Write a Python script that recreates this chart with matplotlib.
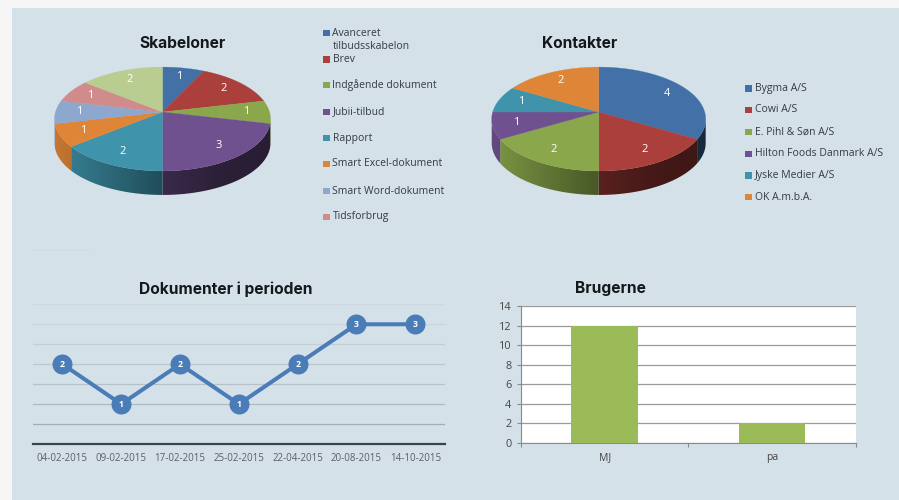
import numpy as np
import matplotlib
matplotlib.use('Agg')
import matplotlib.pyplot as plt
from matplotlib.patches import Rectangle, Polygon

W, H = 899, 500

# data
skabelon_labels = ['Avanceret\ntilbudsskabelon', 'Brev', 'Indgående dokument', 'Jubii-tilbud', 'Rapport',
                   'Smart Excel-dokument', 'Smart Word-dokument', 'Tidsforbrug']
skabelon_values = [1, 2, 1, 3, 2, 1, 1, 1, 2]
skabelon_colors = ['#4470a8', '#ab3f3b', '#8aa84b', '#70518f', '#3f94ab', '#de8537', '#8ea7cf', '#d08c8a', '#b9cd90']

kontakt_labels = ['Bygma A/S', 'Cowi A/S', 'E. Pihl & Søn A/S', 'Hilton Foods Danmark A/S', 'Jyske Medier A/S', 'OK A.m.b.A.']
kontakt_values = [4, 2, 2, 1, 1, 2]
kontakt_colors = ['#4470a8', '#ab3f3b', '#8aa84b', '#70518f', '#3f94ab', '#de8537']

dato_labels = ['04-02-2015', '09-02-2015', '17-02-2015', '25-02-2015', '22-04-2015', '20-08-2015', '14-10-2015']
dato_values = [2, 1, 2, 1, 2, 3, 3]

bruger_labels = ['MJ', 'pa']
bruger_values = [12, 2]

TITLE_FONT = 'Inter'
BODY_FONT = 'Open Sans'
PERSP = 0.135  # tilt of the pie, front gets bigger


def pie_xy(deg, r, cx, cy, rx, ry):
    # 0 deg is straight up, going clockwise
    t = np.radians(deg)
    w = 1 + PERSP * r * np.cos(t)
    return cx + rx * r * np.sin(t) / w, cy - ry * r * np.cos(t) / w


def pie3d(ax, values, colors, cx, cy, rx=107, ry=51, depth=24):
    edges = np.cumsum([0] + list(values)) / sum(values) * 360
    side0 = np.degrees(np.arccos(-PERSP))
    side1 = 360 - side0
    u = np.linspace(-1.02, 1.02, 200)
    shade = np.interp(u, [-1.02, 0, 0.5, 1.02], [0.9, 0.52, 0.4, 0.36])
    # wall first
    for i in range(len(values)):
        a0, a1 = max(edges[i], side0), min(edges[i + 1], side1)
        if a1 <= a0:
            continue
        t = np.linspace(a0, a1, 60)
        x, y = pie_xy(t, 1, cx, cy, rx, ry)
        wall = Polygon(np.c_[np.r_[x, x[::-1]], np.r_[y, y[::-1] + depth]], closed=True,
                       transform=ax.transData, fc='none', ec='none')
        ax.add_patch(wall)
        base = np.array(matplotlib.colors.to_rgb(colors[i]))
        grad = (shade[:, None] * base)[None, :, :]
        im = ax.imshow(grad, extent=(cx - 1.02 * rx, cx + 1.02 * rx, cy + ry + depth + 20, cy - ry),
                       aspect='auto', zorder=2, interpolation='bilinear')
        im.set_clip_path(wall)
    # top face
    for i in range(len(values)):
        t = np.linspace(edges[i], edges[i + 1], 60)
        x, y = pie_xy(t, 1, cx, cy, rx, ry)
        ax.fill(np.r_[cx, x], np.r_[cy, y], color=colors[i], lw=0.2, zorder=3)
        mid = (edges[i] + edges[i + 1]) / 2
        lx, ly = pie_xy(mid, 0.78, cx, cy, rx, ry)
        ax.text(lx, ly, str(values[i]), color='white', fontsize=8, family=BODY_FONT,
                ha='center', va='center', zorder=4)


def legend_col(ax, labels, colors, ys, x_box, x_text):
    for lab, col, y in zip(labels, colors, ys):
        box_y = y - 7.25 * lab.count('\n')
        ax.add_patch(Rectangle((x_box, box_y - 3.2), 6.5, 6.5, color=col, lw=0, zorder=3))
        ax.text(x_text, y, lab, fontsize=7.5, family=BODY_FONT, color='#333b44', va='center',
                ha='left', linespacing=1.24, zorder=3)


def axes_px(left, top, right, bottom):
    return fig.add_axes([left / W, 1 - bottom / H, (right - left) / W, (bottom - top) / H])


fig = plt.figure(figsize=(W / 100, H / 100), dpi=100, facecolor='#f6f6f6')

bg = fig.add_axes([0, 0, 1, 1])
bg.axis('off')
bg.add_patch(Rectangle((12, 8), W - 12, H - 8, color='#d5e1e9', lw=0))
bg.plot([32, 88], [250, 250], color='#cfdae2', lw=0.7)

for txt, x, y in [('Skabeloner', 183, 43), ('Kontakter', 580, 43),
                  ('Dokumenter i perioden', 226, 289), ('Brugerne', 610, 289)]:
    bg.text(x, y, txt, fontsize=11.2, fontweight='bold', family=TITLE_FONT, color='#14181c',
            ha='center', va='center')

pie3d(bg, skabelon_values, skabelon_colors, 162.5, 112)
pie3d(bg, kontakt_values, kontakt_colors, 598.7, 112, rx=106)
bg.set_xlim(0, W)
bg.set_ylim(H, 0)

legend_col(bg, skabelon_labels, skabelon_colors, [40, 59.5, 85, 112, 138, 164, 191, 217], 323, 332.5)
legend_col(bg, kontakt_labels, kontakt_colors, [88.5, 110, 132, 154, 175.5, 197], 745, 755)

# line chart
ax1 = axes_px(33, 304.3, 444.7, 444)
ax1.patch.set_alpha(0)
xpos = np.arange(len(dato_labels))
grid_vals = [0.5, 1, 1.5, 2, 2.5, 3, 3.5]
grid_cols = ['#a3adb5', '#aeb9c1', '#b6c1c9', '#bcc7cf', '#c3ced6', '#c9d4dc', '#cdd8e0']
for v, c in zip(grid_vals, grid_cols):
    ax1.axhline(v, color=c, lw=0.9, zorder=1)
ax1.plot(xpos, dato_values, color='#4a7db8', lw=2.9, marker='o', ms=14.4, mew=0, zorder=3, clip_on=False)
for x, v in zip(xpos, dato_values):
    ax1.text(x, v, str(v), color='white', fontsize=6.3, fontweight='bold', family=BODY_FONT,
             ha='center', va='center', zorder=4)
ax1.set_xlim(-0.5, len(dato_labels) - 0.5)
ax1.set_ylim(0, 3.5)
ax1.set_yticks([])
ax1.set_xticks(xpos)
ax1.set_xticklabels(dato_labels, fontsize=7, family=BODY_FONT, color='#5a6066')
ax1.tick_params(axis='x', length=0, pad=6.3)
for s in ['top', 'left', 'right']:
    ax1.spines[s].set_visible(False)
ax1.spines['bottom'].set_color('#3a444e')
ax1.spines['bottom'].set_linewidth(1.6)

# bar chart
ax2 = axes_px(521, 306, 855.7, 442.7)
ax2.set_facecolor('white')
ax2.bar(range(len(bruger_labels)), bruger_values, width=0.4, color='#9bbb59', zorder=3)
ax2.set_xlim(-0.5, len(bruger_labels) - 0.5)
ax2.set_ylim(0, 14)
ax2.set_yticks(range(0, 15, 2))
ax2.grid(axis='y', color='#9a9a9a', lw=0.9, zorder=1)
ax2.set_axisbelow(True)
ax2.set_xticks(range(len(bruger_labels)))
ax2.set_xticklabels(bruger_labels)
ax2.set_xticks([-0.5, 0.5, 1.5], minor=True)
ax2.tick_params(axis='x', which='major', length=0, pad=7, labelsize=7.5, labelcolor='#444444')
ax2.tick_params(axis='x', which='minor', length=3, color='#8a8a8a', width=0.8)
ax2.tick_params(axis='y', length=3, color='#8a8a8a', width=0.8, labelsize=7.8, labelcolor='#444444', pad=4)
for lab in ax2.get_xticklabels() + ax2.get_yticklabels():
    lab.set_family(BODY_FONT)
for s in ['top', 'right']:
    ax2.spines[s].set_visible(False)
ax2.spines['left'].set_color('#8a8a8a')
ax2.spines['bottom'].set_color('#8a8a8a')

fig.savefig('out.png', dpi=100, facecolor=fig.get_facecolor())
